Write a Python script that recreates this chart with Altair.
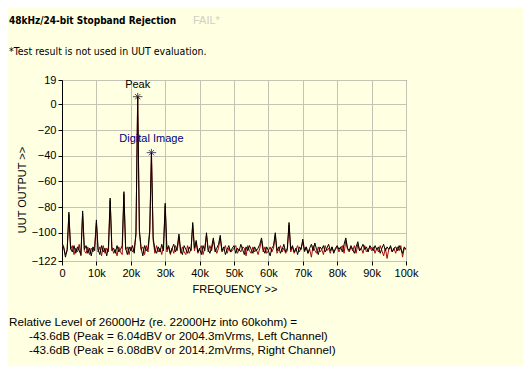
import altair as alt
import pandas as pd

# ---- data ----
STEP_K = 0.5  # kHz between samples
left_db = [
    -108, -111, -119, -113, -84, -112, -115, -110, -116, -111, -114, -117, -83, -113, -110, -116, -112, -118, -111, -114,
    -90, -113, -117, -110, -115, -112, -118, -111, -73, -114, -112, -116, -110, -115, -113, -110, -68, -112, -117, -111,
    -114, -110, -116, -100, 6.0, -98, -112, -118, -110, -114, -112, -98, -37.6, -104, -113, -116, -111, -115, -109, -114,
    -77, -113, -110, -116, -112, -109, -115, -111, -101, -114, -117, -110, -113, -116, -111, -114, -92, -112, -106, -115,
    -112, -117, -110, -114, -100, -113, -116, -111, -104, -115, -112, -109, -102, -114, -111, -117, -113, -110, -115, -112,
    -110, -116, -112, -114, -109, -113, -117, -111, -114, -110, -113, -116, -111, -114, -112, -109, -104, -113, -116, -111,
    -114, -118, -112, -110, -100, -114, -111, -116, -113, -109, -115, -112, -92, -113, -110, -115, -112, -117, -111, -113,
    -105, -114, -111, -116, -112, -109, -114, -108, -113, -117, -111, -113, -110, -115, -112, -109, -114, -111, -116, -112,
    -110, -113, -111, -115, -109, -104, -112, -114, -110, -113, -116, -111, -107, -114, -112, -109, -113, -111, -115, -110,
    -112, -114, -110, -113, -111, -116, -112, -109, -114, -111, -113, -110, -115, -112, -111, -114, -110, -113, -116, -111,
    -113,
]
right_db = [
    -109, -112, -117, -114, -86, -113, -110, -117, -112, -115, -109, -118, -85, -114, -116, -111, -117, -112, -115, -110,
    -92, -115, -111, -118, -110, -116, -112, -115, -75, -111, -116, -113, -118, -111, -115, -117, -70, -113, -111, -117,
    -111, -115, -112, -102, 5.0, -100, -113, -111, -117, -110, -115, -100, -38, -106, -116, -110, -115, -112, -117, -110,
    -79, -115, -111, -117, -112, -116, -110, -114, -103, -116, -111, -115, -117, -110, -116, -113, -94, -114, -108, -116,
    -113, -110, -117, -112, -102, -115, -110, -114, -106, -112, -116, -112, -104, -115, -113, -110, -116, -112, -115, -114,
    -112, -110, -116, -113, -115, -111, -112, -118, -110, -114, -116, -111, -115, -113, -117, -112, -106, -115, -111, -116,
    -114, -111, -115, -112, -102, -116, -113, -110, -115, -112, -116, -114, -94, -115, -111, -116, -113, -110, -115, -112,
    -107, -115, -111, -116, -113, -119, -110, -114, -116, -111, -115, -113, -117, -110, -114, -112, -116, -111, -115, -113,
    -111, -115, -112, -110, -116, -106, -113, -115, -111, -114, -110, -116, -109, -114, -112, -116, -110, -115, -113, -111,
    -114, -111, -116, -112, -115, -110, -114, -118, -112, -120, -113, -111, -115, -112, -116, -111, -114, -110, -119, -112,
    -113,
]
freq_hz = [i * STEP_K * 1000 for i in range(len(left_db))]

marker_labels = ["Peak", "Digital Image"]
marker_freq = [22000, 26000]
marker_db = [6.0, -37.6]

y_ticks = [19, 0, -20, -40, -60, -80, -100, -122]
x_ticks = [i * 10000 for i in range(11)]

title_text = "48kHz/24-bit Stopband Rejection"
fail_text = "FAIL*"
note_text = "*Test result is not used in UUT evaluation."
result_lines = [
    "Relative Level of 26000Hz (re. 22000Hz into 60kohm) =",
    "-43.6dB (Peak = 6.04dBV or 2004.3mVrms, Left Channel)",
    "-43.6dB (Peak = 6.08dBV or 2014.2mVrms, Right Channel)",
]

BG = "#FFFFE1"
NARROW = "Liberation Sans Narrow, DejaVu Sans Condensed, Liberation Sans, sans-serif"
SANS = "Liberation Sans, Arial, sans-serif"

df_l = pd.DataFrame({"freq": freq_hz, "db": left_db})
df_r = pd.DataFrame({"freq": freq_hz, "db": right_db})
df_m = pd.DataFrame({"freq": marker_freq, "db": marker_db, "label": marker_labels})

xs = alt.Scale(domain=[0, 100000], nice=False, zero=False)
ys = alt.Scale(domain=[-122, 19], nice=False, zero=False)

x_axis = alt.Axis(values=x_ticks, labelExpr="datum.value == 0 ? '0' : (datum.value / 1000) + 'k'",
                  title=None, grid=True, tickSize=4, labelPadding=2, domain=False,
                  labelOverlap=False, labelFlush=False)
y_axis = alt.Axis(values=y_ticks, title=None, grid=True, tickSize=4, labelPadding=2,
                  domain=True, domainColor="#000000", labelOverlap=False, labelFlush=False)

X = alt.X("freq:Q", scale=xs, axis=x_axis)
Y = alt.Y("db:Q", scale=ys, axis=y_axis)

red = alt.Chart(df_r).mark_line(color="#A80808", strokeWidth=1, clip=True).encode(x=X, y=Y)
black = alt.Chart(df_l).mark_line(color="#000000", strokeWidth=1, clip=True).encode(x=X, y=Y)

star = "M-1,0L1,0M0,-0.8L0,0.8M-0.55,-0.55L0.55,0.55M-0.55,0.55L0.55,-0.55"
pk = df_m[df_m.label == "Peak"]
di = df_m[df_m.label == "Digital Image"]
mk_peak = alt.Chart(pk).mark_point(shape=star, size=90, filled=False, color="#000000", strokeWidth=1).encode(x=X, y=Y)
mk_di = alt.Chart(di).mark_point(shape=star, size=90, filled=False, color="#000060", strokeWidth=1).encode(x=X, y=Y)
tx_peak = alt.Chart(pk).mark_text(dy=-12, fontSize=11, font=SANS, color="#000000").encode(x=X, y=Y, text="label:N")
tx_di = alt.Chart(di).mark_text(dy=-14, fontSize=11, font=SANS, color="#000080").encode(x=X, y=Y, text="label:N")


def page_text(txt, x, y, size=12, weight="normal", color="#000000", font=NARROW, align="left", angle=0):
    kw = dict(fontSize=size, fontWeight=weight, color=color, font=font, align=align, baseline="middle")
    if angle:
        kw["angle"] = angle
    return alt.Chart(pd.DataFrame({"t": [txt]})).mark_text(**kw).encode(
        x=alt.value(x), y=alt.value(y), text="t:N")


# plot origin is at page (62, 80); svg starts at page (8, 8)
texts = [
    page_text(title_text, -53, -59, size=10, weight="bold"),
    page_text(fail_text, 131, -59, size=11, color="#CFCFC4", font=SANS),
    page_text(note_text, -53, -28, size=10.5),
    page_text("UUT OUTPUT >>", -39, 110, size=11, font=SANS, align="center", angle=270),
    page_text("FREQUENCY >>", 173, 210, size=11, font=SANS, align="center"),
    page_text(result_lines[0], -53, 242, size=11.7, font=SANS),
    page_text(result_lines[1], -33, 256, size=11.7, font=SANS),
    page_text(result_lines[2], -33, 270, size=11.7, font=SANS),
]

chart = alt.layer(red, black, mk_peak, mk_di, tx_peak, tx_di, *texts).properties(
    width=344, height=181,
    background=BG,
    autosize=alt.AutoSizeParams(type="none"),
    padding={"left": 54, "top": 72, "right": 117, "bottom": 105},
).configure_view(
    fill=BG, stroke="#303030", strokeWidth=1
).configure_axis(
    gridColor="#C4C4B4", gridOpacity=1, gridWidth=1, labelOverlap=False,
    tickColor="#000000", labelColor="#000000", labelFont=SANS, labelFontSize=11,
)

chart.save("out.html", embed_options={"renderer": "svg", "actions": False})
